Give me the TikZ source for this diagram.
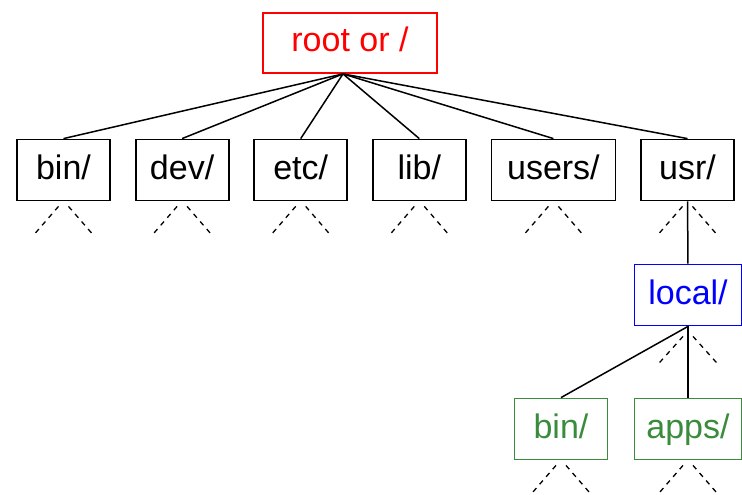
\documentclass[tikz,border=0pt]{standalone}
\usepackage{fontspec}
\setmainfont{Liberation Sans}
\usetikzlibrary{positioning}
\definecolor{rootred}{RGB}{255, 0, 0}
\definecolor{localblue}{RGB}{0, 0, 255}
\definecolor{leafgreen}{RGB}{58, 140, 60}

\begin{document}
\begin{tikzpicture}[x=1pt, y=-1pt, node distance=23.8pt]
    % Styles
    \tikzstyle{dir} = [rectangle, draw=black, line width=1.8pt, inner xsep=14pt,
        text height=25pt, text depth=7pt,
        minimum width=93pt, minimum height=61pt, font=\fontsize{34}{38}\selectfont]
    \tikzstyle{link} = [line width=1.5pt, black]
    \tikzstyle{stub} = [line width=1.3pt, black, dash pattern=on 5pt off 5pt]

    \useasboundingbox (0,0) rectangle (742,495);

    % Nodes
    \node [dir, draw=rootred, text=rootred, minimum width=174pt, minimum height=60pt] (root) at (350,43) {root or /};
    \node [dir] (bin) at (63.5,170) {bin/};
    \node [dir, right=of bin] (dev) {dev/};
    \node [dir, right=of dev] (etc) {etc/};
    \node [dir, right=of etc] (lib) {lib/};
    \node [dir, right=of lib, minimum width=124pt] (users) {users/};
    \node [dir, right=of users] (usr) {usr/};
    \node [dir, draw=localblue, text=localblue, inner xsep=12pt, minimum width=107pt] (local) at (688,295) {local/};
    \node [dir, draw=leafgreen, text=leafgreen] (lbin) at (561,429) {bin/};
    \node [dir, draw=leafgreen, text=leafgreen, inner xsep=12pt, minimum width=107pt] (apps) at (688,429) {apps/};

    % Lines
    \coordinate (hub) at ([xshift=-7pt]root.south);
    \foreach \n in {bin, dev, etc, lib, users, usr}
        \draw [link] (hub) -- (\n.north);
    \draw [link] (usr) -- (local);
    \draw [link] (local.south) -- (lbin.north);
    \draw [link] (local) -- (apps);

    % Unexpanded subtrees
    \foreach \n in {bin, dev, etc, lib, users, usr, lbin, apps} {
        \draw [stub] ([xshift=-5pt, yshift=-5pt]\n.south) -- ++(-26,30);
        \draw [stub] ([xshift=5pt, yshift=-5pt]\n.south) -- ++(26,30);
    }
    \draw [stub] ([xshift=-5pt, yshift=-10pt]local.south) -- ++(-26,29);
    \draw [stub] ([xshift=5pt, yshift=-10pt]local.south) -- ++(26,29);
\end{tikzpicture}
\end{document}
